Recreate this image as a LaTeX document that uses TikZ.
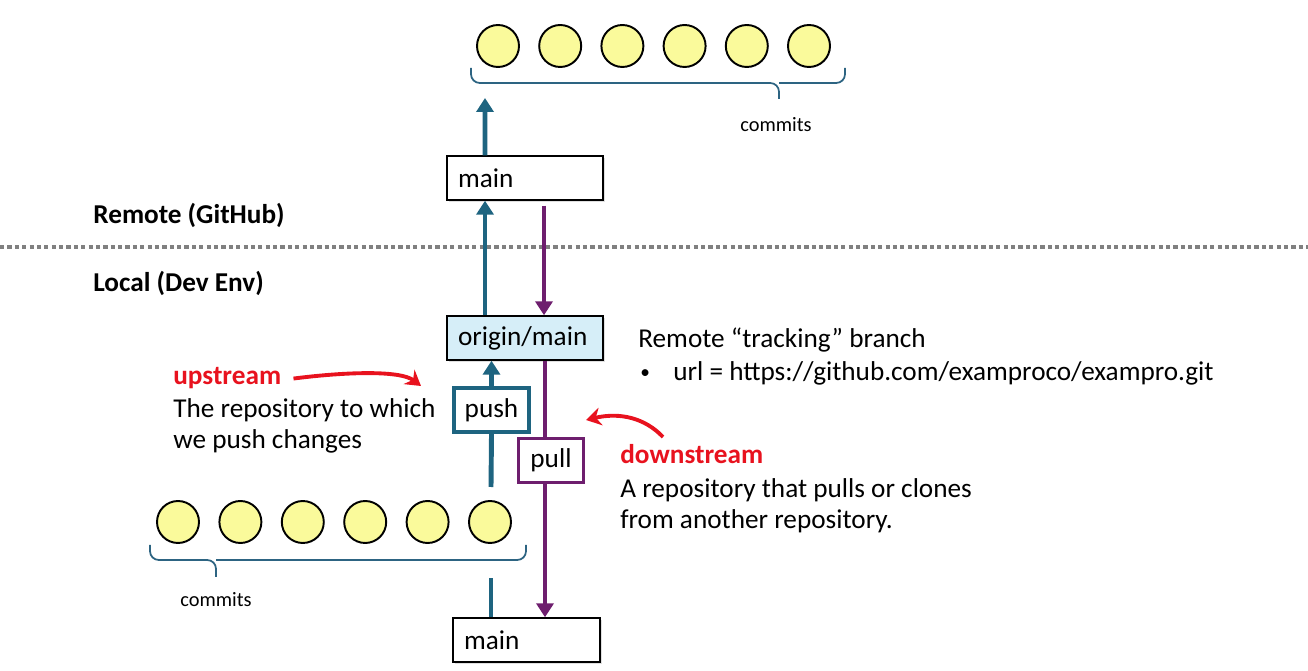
\documentclass[tikz,border=0pt]{standalone}
\usepackage{fontspec}
\setmainfont{Carlito}
\usetikzlibrary{arrows.meta,shadows}
\definecolor{pushblue}{RGB}{30,100,128}
\definecolor{pullpurple}{RGB}{110,30,110}
\definecolor{notered}{RGB}{232,18,30}
\definecolor{trackfill}{RGB}{214,238,248}
\definecolor{commitfill}{RGB}{250,250,155}
\definecolor{bracecol}{RGB}{45,100,130}
\newcommand{\bodysize}{\fontsize{15.5}{18.1}\selectfont}
\newcommand{\smallsize}{\fontsize{11.6}{14}\selectfont}
\tikzstyle{commit} = [draw, fill=commitfill, circle, line width=1.1pt, minimum size=0.84cm, inner sep=0]
\tikzstyle{branch} = [draw, fill=white, line width=0.8pt, minimum height=0.88cm, inner xsep=0.22cm, text width=2.68cm, align=left, drop shadow={opacity=0.25, shadow xshift=1.2pt, shadow yshift=-1.2pt}]
\tikzstyle{op} = [draw, fill=white, minimum height=0.88cm, inner xsep=0.1cm]
\tikzstyle{txt} = [inner sep=0, anchor=base west, align=left]
\tikzstyle{pushline} = [pushblue, line width=2.8pt]
\tikzstyle{pullline} = [pullpurple, line width=2.5pt]
\tikzstyle{note} = [notered, line width=2.2pt, -{Stealth[length=0.3cm, width=0.36cm, inset=0.1cm]}]
\tikzstyle{brace} = [bracecol, line width=1pt, rounded corners=5]

\begin{document}
\begin{tikzpicture}[x=0.02cm, y=-0.02cm, font=\bodysize,
  >={Triangle[length=0.28cm, width=0.34cm]}]
\useasboundingbox (0,0) rectangle (1308,671);

% remote side
\foreach \i in {1,...,6}
  \node[commit] (r\i) at ({498+62.2*(\i-1)}, 46) {};
\draw[brace] (471,68) |- (779,83) -- (779,99);
\draw[brace] (845,68) |- (779,83);
\node[inner sep=0, font=\smallsize] (rcommits) at (776,125) {commits};
\coordinate (rtip) at (485,98);

\node[branch] (rmain) at (525,178) {main};

\draw[gray, line width=1.8pt, dash pattern=on 2.4pt off 1.8pt] (0,247) -- (1308,247);
\node[txt, font=\bodysize\bfseries] (remote) at (93,224) {Remote (GitHub)};
\node[txt, font=\bodysize\bfseries] (local) at (93,292) {Local (Dev Env)};

% local side
\node[branch, fill=trackfill] (origin) at (525,338) {origin/main};
\node[op, draw=pushblue, line width=1.8pt, minimum width=1.5cm] (push) at (491.5,410) {push};
\node[op, draw=pullpurple, line width=1.6pt, minimum width=1.3cm] (pull) at (551,460.5) {pull};
\node[branch, text width=2.5cm] (lmain) at (526.5,640) {main};

\foreach \i in {1,...,6}
  \node[commit] (l\i) at ({178+62.4*(\i-1)}, 522) {};
\draw[brace] (150,545) |- (216,560) -- (216,577);
\draw[brace] (526,545) |- (216,560);
\node[inner sep=0, font=\smallsize] (lcommits) at (216,600) {commits};
\coordinate (pushgap) at (491,487);
\coordinate (maingap) at (491,578);

\path[pushline,->] ([xshift=-0.8cm]rmain.north) edge (rtip)
  ([xshift=-0.8cm]origin.north) edge ([xshift=-0.8cm]rmain.south)
  (push.north) edge (push.north |- origin.south);
\draw[pushline] (pushgap) -- (push.south);
\draw[pushline] (lmain.north -| maingap) -- (maingap);

\draw[pullline,->] ([xshift=0.38cm,yshift=-0.1cm]rmain.south) -- ([xshift=0.38cm]origin.north);
\draw[pullline] ([xshift=-0.12cm]pull.north |- origin.south) -- ([xshift=-0.12cm]pull.north);
\draw[pullline,->] ([xshift=-0.12cm]pull.south) -- ([xshift=-0.12cm]pull.south |- lmain.north);

% notes
\node[txt] (track) at (638,348) {Remote “tracking” branch};
\node[txt, font=\fontsize{11}{12}\selectfont] (bullet) at (640,379) {•};
\node[txt] (url) at (673,381) {url = https://github.com/examproco/exampro.git};

\node[txt, font=\bodysize\bfseries, notered] (upstream) at (173,385) {upstream};
\node[txt] (updesc) at (173,449) {The repository to which\\we push changes};
\coordinate (uptip) at (421,386);
\draw[note] ([xshift=0.24cm]upstream.east) .. controls (345,372) and (400,370) .. (uptip);

\node[txt, font=\bodysize\bfseries, notered] (downstream) at (620,464) {downstream};
\node[txt] (downdesc) at (620,529) {A repository that pulls or clones\\from another repository.};
\coordinate (downstart) at (663,437);
\coordinate (downtip) at (586,420);
\draw[note] (downstart) .. controls (645,418) and (620,412) .. (downtip);
\end{tikzpicture}
\end{document}
